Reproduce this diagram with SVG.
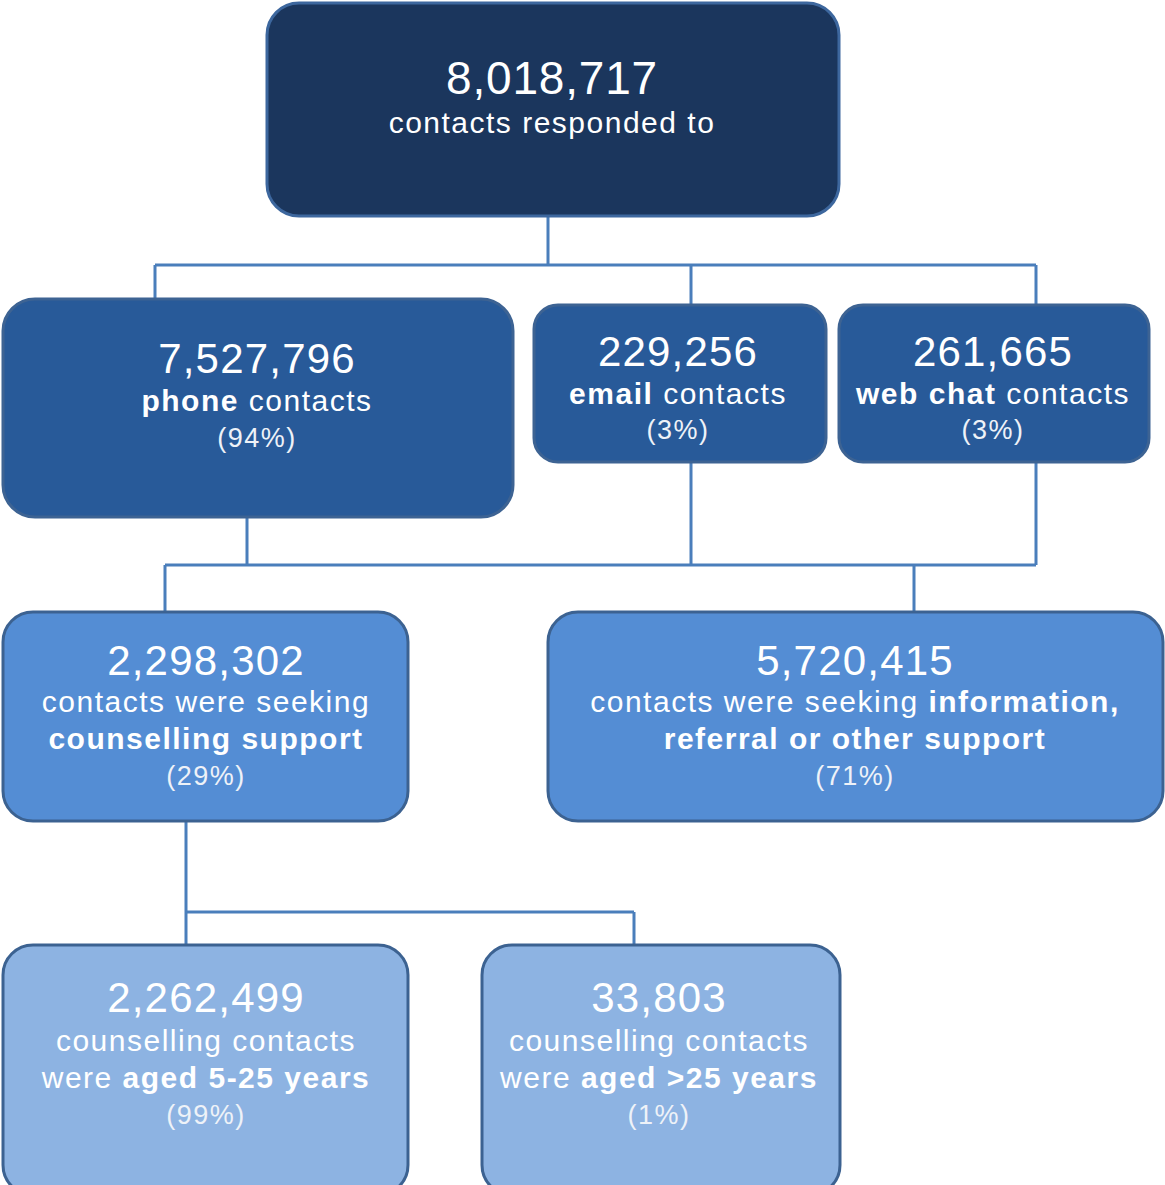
<svg xmlns="http://www.w3.org/2000/svg" width="1165" height="1185" viewBox="0 0 1165 1185">
<style>
.box{stroke-width:3}
.l0{fill:#1b365d;stroke:#3d679e}
.l1{fill:#285a99;stroke:#3d6393}
.l2{fill:#548dd4;stroke:#3c6291}
.l3{fill:#8db3e2;stroke:#3c6291}
text{font-family:"Liberation Sans",Arial,sans-serif;fill:#ffffff;text-anchor:middle}
.num{font-size:42px;letter-spacing:1.2px}
.big{font-size:46px;letter-spacing:0.8px}
.t{font-size:30px;letter-spacing:1.5px}
.p{font-size:27px;letter-spacing:1.5px;fill:#eef2f8}
.b{font-weight:bold}
.conn{stroke:#4a7ebb;stroke-width:3;fill:none}
</style>
<rect width="1165" height="1185" fill="#ffffff"/>
<g id="connectors" class="conn">
<path d="M548 216V265M155 265H1036M155 265V299M691 265V305M1036 265V305"/>
<path d="M247 517V565M691 462V565M1036 462V565M165 565H1036M165 565V612M914 565V612"/>
<path d="M186 821V912M186 912H634M186 912V945M634 912V945"/>
</g>
<g id="total">
<rect class="box l0" x="267" y="3" width="572" height="213" rx="32"/>
<text class="big" x="552" y="94">8,018,717</text>
<text class="t" x="552" y="133">contacts responded to</text>
</g>
<g id="phone">
<rect class="box l1" x="3" y="299" width="510" height="218" rx="32"/>
<text class="num" x="257" y="373">7,527,796</text>
<text class="t" x="257" y="411"><tspan class="b">phone</tspan> contacts</text>
<text class="p" x="257" y="447">(94%)</text>
</g>
<g id="email">
<rect class="box l1" x="534" y="305" width="292" height="157" rx="24"/>
<text class="num" x="678" y="366">229,256</text>
<text class="t" x="678" y="404"><tspan class="b">email</tspan> contacts</text>
<text class="p" x="678" y="439">(3%)</text>
</g>
<g id="webchat">
<rect class="box l1" x="839" y="305" width="310" height="157" rx="24"/>
<text class="num" x="993" y="366">261,665</text>
<text class="t" x="993" y="404"><tspan class="b">web chat</tspan> contacts</text>
<text class="p" x="993" y="439">(3%)</text>
</g>
<g id="counselling">
<rect class="box l2" x="3" y="612" width="405" height="209" rx="30"/>
<text class="num" x="206" y="675">2,298,302</text>
<text class="t" x="206" y="712">contacts were seeking</text>
<text class="t b" x="206" y="749">counselling support</text>
<text class="p" x="206" y="785">(29%)</text>
</g>
<g id="information">
<rect class="box l2" x="548" y="612" width="615" height="209" rx="30"/>
<text class="num" x="855" y="675">5,720,415</text>
<text class="t" x="855" y="712">contacts were seeking <tspan class="b">information,</tspan></text>
<text class="t b" x="855" y="749">referral or other support</text>
<text class="p" x="855" y="785">(71%)</text>
</g>
<g id="aged-5-25">
<rect class="box l3" x="3" y="945" width="405" height="250" rx="30"/>
<text class="num" x="206" y="1012">2,262,499</text>
<text class="t" x="206" y="1051">counselling contacts</text>
<text class="t" x="206" y="1088">were <tspan class="b">aged 5-25 years</tspan></text>
<text class="p" x="206" y="1124">(99%)</text>
</g>
<g id="aged-over-25">
<rect class="box l3" x="482" y="945" width="358" height="250" rx="30"/>
<text class="num" x="659" y="1012">33,803</text>
<text class="t" x="659" y="1051">counselling contacts</text>
<text class="t" x="659" y="1088">were <tspan class="b">aged &gt;25 years</tspan></text>
<text class="p" x="659" y="1124">(1%)</text>
</g>
</svg>
